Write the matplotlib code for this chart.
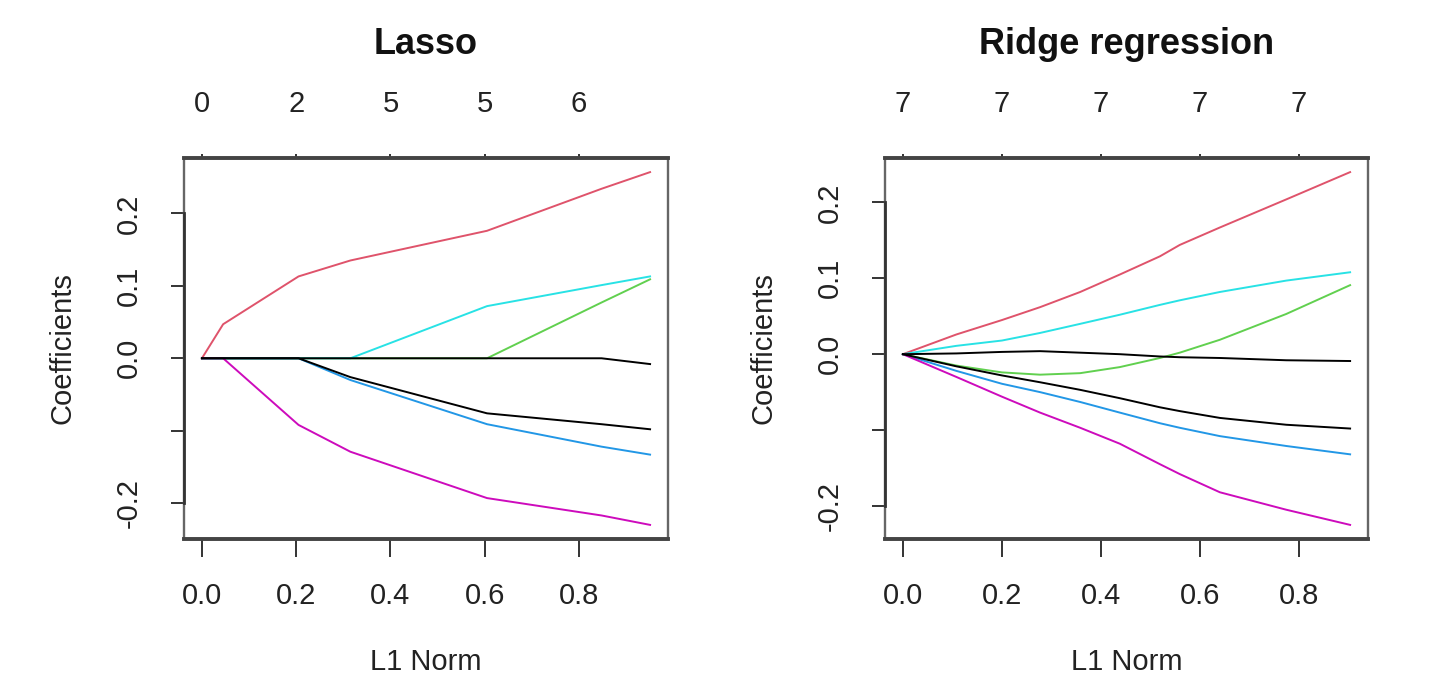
import matplotlib.pyplot as plt
from matplotlib.patches import Rectangle

plt.rcParams["font.family"] = ["Liberation Sans", "DejaVu Sans"]

# Lasso: coefficient path, piecewise linear between knots (L1 norm)
lasso_l1 = [0.0, 0.045, 0.205, 0.315, 0.605, 0.848, 0.951]
lasso_coefs = {
    "red": [0.0, 0.047, 0.113, 0.135, 0.176, 0.234, 0.257],
    "green": [0.0, 0.0, 0.0, 0.0, 0.0, 0.077, 0.109],
    "blue": [0.0, 0.0, 0.0, -0.030, -0.091, -0.122, -0.133],
    "cyan": [0.0, 0.0, 0.0, 0.0, 0.072, 0.101, 0.113],
    "magenta": [0.0, 0.0, -0.092, -0.129, -0.193, -0.217, -0.230],
    "black2": [0.0, 0.0, 0.0, -0.026, -0.076, -0.091, -0.098],
    "black1": [0.0, 0.0, 0.0, 0.0, 0.0, 0.0, -0.008],
}
lasso_df = ["0", "2", "5", "5", "6"]

# Ridge regression path
ridge_l1 = [0.0, 0.108, 0.2, 0.277, 0.358, 0.438, 0.519, 0.559, 0.64, 0.774, 0.903]
ridge_coefs = {
    "red": [0.0, 0.026, 0.045, 0.062, 0.082, 0.105, 0.129, 0.144, 0.167, 0.204, 0.240],
    "green": [0.0, -0.015, -0.024, -0.027, -0.025, -0.017, -0.005, 0.002, 0.019, 0.053, 0.091],
    "blue": [0.0, -0.022, -0.039, -0.050, -0.063, -0.077, -0.091, -0.097, -0.108, -0.121, -0.132],
    "cyan": [0.0, 0.011, 0.018, 0.028, 0.040, 0.052, 0.065, 0.071, 0.082, 0.097, 0.108],
    "magenta": [0.0, -0.030, -0.056, -0.077, -0.097, -0.118, -0.145, -0.158, -0.182, -0.205, -0.225],
    "black2": [0.0, -0.016, -0.028, -0.037, -0.047, -0.058, -0.070, -0.075, -0.084, -0.093, -0.098],
    "black1": [0.0, 0.001, 0.003, 0.004, 0.002, 0.0, -0.003, -0.004, -0.005, -0.008, -0.009],
}
ridge_df = ["7", "7", "7", "7", "7"]

xticks = [0.0, 0.2, 0.4, 0.6, 0.8]
xticklabels = ["0.0", "0.2", "0.4", "0.6", "0.8"]
yticks = [-0.2, -0.1, 0.0, 0.1, 0.2]
yticklabels = ["-0.2", "", "0.0", "0.1", "0.2"]  # R drops the overlapping -0.1

colors = {
    "red": "#DF536B",
    "green": "#61D04F",
    "blue": "#2297E6",
    "cyan": "#28E2E5",
    "magenta": "#CD0BBC",
    "black2": "#000000",
    "black1": "#000000",
}

fs = 21
txt = "#222222"


def draw_panel(ax, l1, coefs, df_labels, title):
    for name, vals in coefs.items():
        ax.plot(l1, vals, color=colors[name], lw=1.4, solid_joinstyle="round")
    ax.margins(x=0.04, y=0.04)

    # box: thin sides, thick top/bottom, darker axis segment on the left
    ax.add_patch(Rectangle((0, 0), 1, 1, transform=ax.transAxes, fill=False,
                           ec="#666666", lw=1.7, clip_on=False, zorder=5))
    ax.spines["right"].set_visible(False)
    ax.spines["top"].set_visible(False)
    ax.spines["left"].set_bounds(-0.2, 0.2)
    ax.spines["left"].set_linewidth(2.0)
    ax.spines["left"].set_color("#333333")
    ax.spines["bottom"].set_linewidth(2.8)
    ax.spines["bottom"].set_color("#444444")
    for s in ax.spines.values():
        s.set_zorder(6)

    ax.set_xticks(xticks)
    ax.set_xticklabels(xticklabels)
    ax.set_yticks(yticks)
    ax.set_yticklabels(yticklabels)
    ax.tick_params(axis="x", length=13, width=1.4, pad=18, labelsize=fs,
                   colors="#333333", labelcolor=txt)
    ax.tick_params(axis="y", length=9.5, width=1.4, pad=20, labelsize=fs,
                   colors="#333333", labelcolor=txt, labelrotation=90)
    for lab in ax.get_yticklabels():
        lab.set_va("center")

    ax.set_xlabel("L1 Norm", fontsize=fs, color=txt, labelpad=27)
    ax.set_ylabel("Coefficients", fontsize=fs, color=txt, labelpad=28)

    top = ax.twiny()
    top.set_xlim(ax.get_xlim())
    top.set_xticks(xticks)
    top.set_xticklabels(df_labels)
    top.tick_params(axis="x", length=3, width=1.4, pad=26, labelsize=fs,
                    colors="#333333", labelcolor=txt)
    for s in ["left", "right", "bottom"]:
        top.spines[s].set_visible(False)
    top.spines["top"].set_linewidth(2.8)
    top.spines["top"].set_color("#444444")
    top.spines["top"].set_zorder(6)

    ax.set_title(title, fontsize=26, fontweight="bold", color="#111111",
                 y=1.273, pad=0)


fig = plt.figure(figsize=(14.4, 6.93), dpi=100)
ax1 = fig.add_axes([184 / 1440, 154 / 693, 484 / 1440, 381 / 693])
ax2 = fig.add_axes([885 / 1440, 154 / 693, 483 / 1440, 381 / 693])

draw_panel(ax1, lasso_l1, lasso_coefs, lasso_df, "Lasso")
draw_panel(ax2, ridge_l1, ridge_coefs, ridge_df, "Ridge regression")

fig.savefig("out.png", dpi=100)
